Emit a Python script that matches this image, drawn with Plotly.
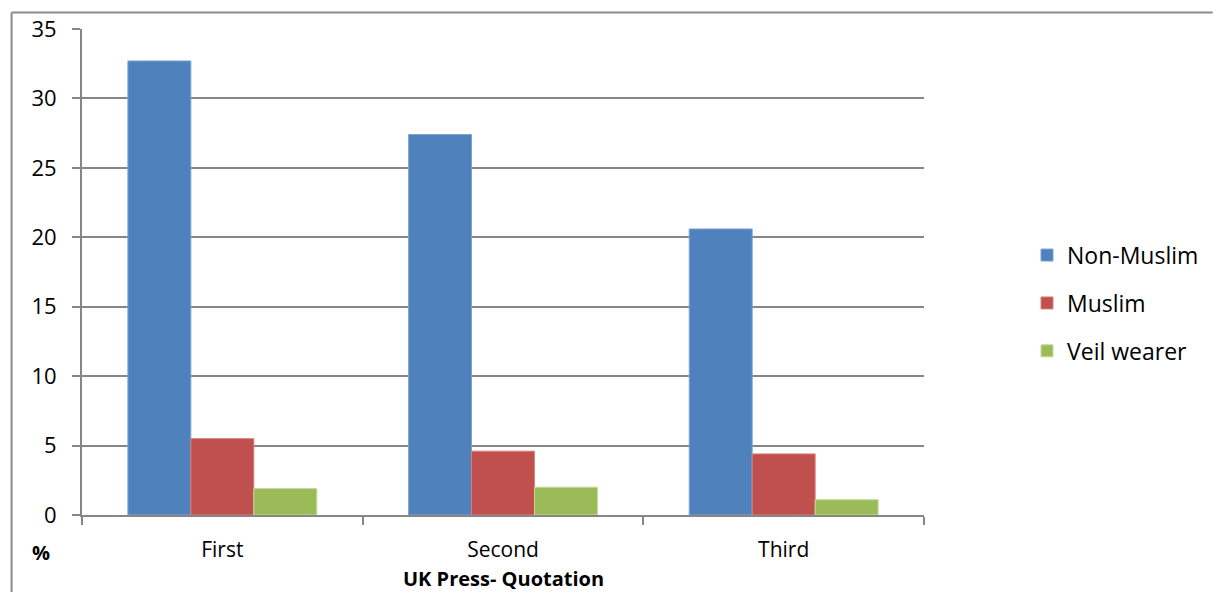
import plotly.graph_objects as go

categories = ["First", "Second", "Third"]
non_muslim = [32.7, 27.4, 20.6]
muslim = [5.5, 4.6, 4.4]
veil_wearer = [1.9, 2.0, 1.1]
series_names = ["Non-Muslim", "Muslim", "Veil wearer"]
colors = ["#4F81BD", "#C0504D", "#9BBB59"]
edge_colors = ["#7FA3D3", "#D8807E", "#C3D99A"]
y_ticks = [0, 5, 10, 15, 20, 25, 30, 35]

FONT = "Open Sans"
GRAY = "#868686"

fig = go.Figure()
for i, (name, vals) in enumerate(zip(series_names, [non_muslim, muslim, veil_wearer])):
    fig.add_trace(go.Bar(
        x=categories, y=vals, name=name,
        marker=dict(color=colors[i], line=dict(color=edge_colors[i], width=1)),
        legendgroup=name,
    ))

fig.update_layout(
    width=1215, height=592,
    margin=dict(l=82, r=290, t=29, b=77),
    paper_bgcolor="white", plot_bgcolor="white",
    barmode="group", bargap=0.327, bargroupgap=0,
    font=dict(family=FONT, size=22, color="#000000"),
    legend=dict(
        x=1.121, y=0.436, xanchor="left", yanchor="middle",
        font=dict(family=FONT, size=23, color="#000000"),
        traceorder="grouped", tracegroupgap=15,
        bgcolor="rgba(0,0,0,0)",
    ),
    xaxis=dict(
        type="category",
        showline=True, linecolor=GRAY, linewidth=2,
        ticks="outside", ticklen=8, tickcolor=GRAY, tickwidth=2,
        tickson="boundaries",
        showgrid=False,
        tickfont=dict(family=FONT, size=21),
        ticklabelstandoff=15,
    ),
    yaxis=dict(
        range=[0, 35], tickvals=y_ticks,
        showline=True, linecolor=GRAY, linewidth=2,
        ticks="outside", ticklen=8, tickcolor=GRAY, tickwidth=2,
        showgrid=True, gridcolor=GRAY, gridwidth=2,
        zeroline=False,
        tickfont=dict(family=FONT, size=22),
        ticklabelstandoff=11,
    ),
)

# x-axis title
fig.add_annotation(text="<b>UK Press- Quotation</b>", xref="paper", yref="paper",
                   x=0.5, y=(515 - 578.5) / 486, yanchor="middle", borderpad=0,
                   showarrow=False, font=dict(family=FONT, size=20))

# "%" label
fig.add_annotation(text="<b>%</b>", xref="paper", yref="paper",
                   x=(30 - 82) / 843, y=(515 - 552) / 486, yanchor="middle",
                   showarrow=False, font=dict(family=FONT, size=20))

# chart border (left and top)
fig.add_shape(type="line", xref="paper", yref="paper",
              x0=(11.5 - 82) / 843, x1=(11.5 - 82) / 843,
              y0=(515 - 12.5) / 486, y1=(515 - 600) / 486,
              line=dict(color="#8C8C8C", width=2))
fig.add_shape(type="line", xref="paper", yref="paper",
              x0=(11.5 - 82) / 843, x1=(1214 - 82) / 843,
              y0=(515 - 12.5) / 486, y1=(515 - 12.5) / 486,
              line=dict(color="#8C8C8C", width=2))

fig.write_html("out.html", config={"displayModeBar": False},
               post_script="document.body.style.margin='0';document.body.style.overflow='hidden';")
